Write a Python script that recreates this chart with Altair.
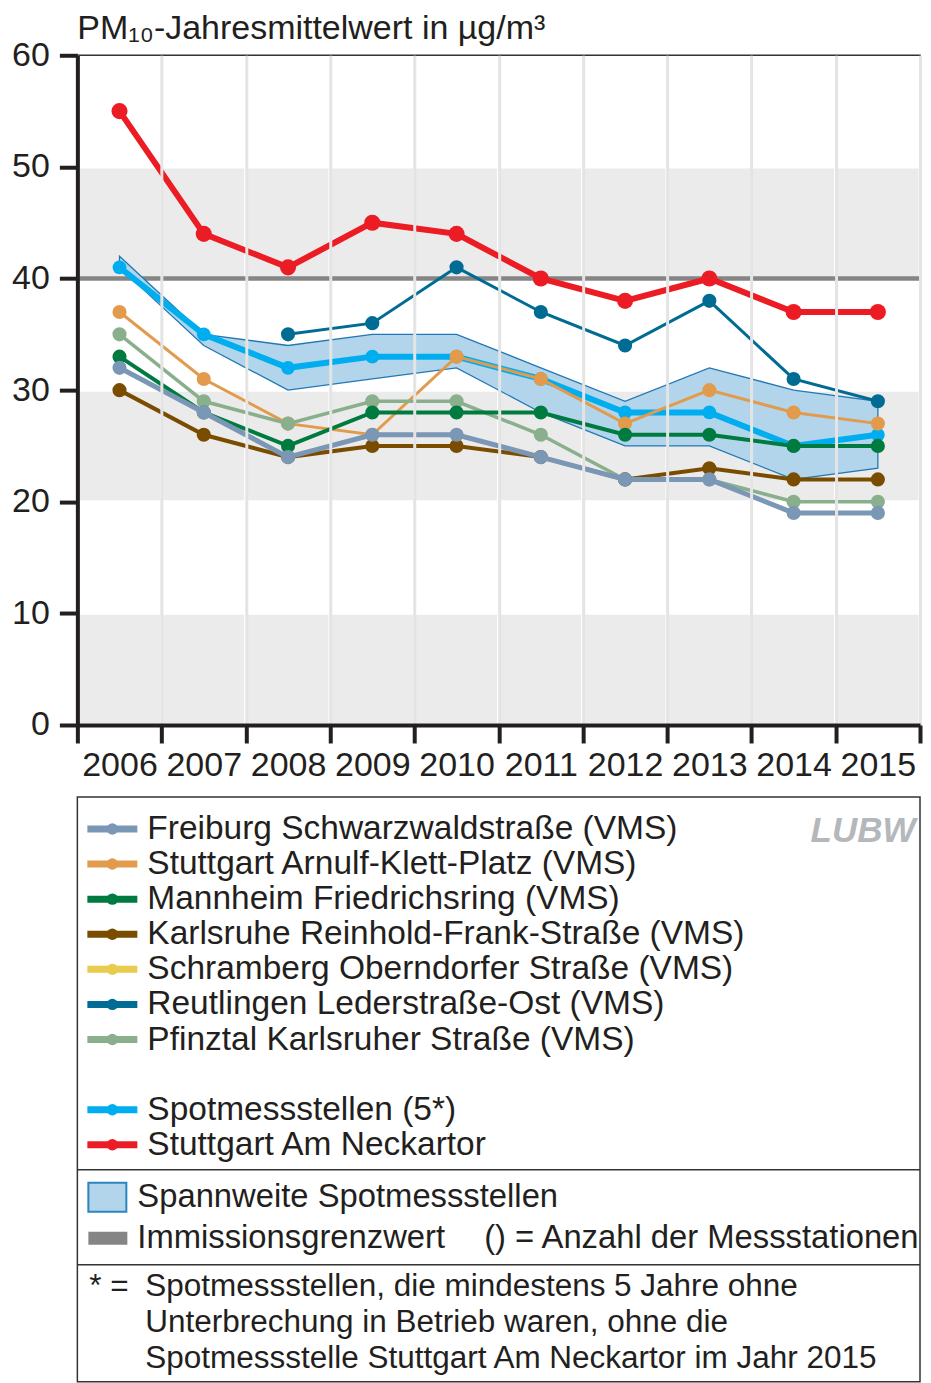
import altair as alt
import pandas as pd

# ---------------- data ----------------
years = [str(y) for y in range(2006, 2016)]

freiburg = [32, 28, 24, 26, 26, 24, 22, 22, 19, 19]
arnulf = [37, 31, 27, 26, 33, 31, 27, 30, 28, 27]
mannheim = [33, 28, 25, 28, 28, 28, 26, 26, 25, 25]
karlsruhe = [30, 26, 24, 25, 25, 24, 22, 23, 22, 22]
schramberg = [None] * 10
reutlingen = [None, None, 35, 36, 41, 37, 34, 38, 31, 29]
pfinztal = [35, 29, 27, 29, 29, 26, 22, 22, 20, 20]
spot = [41, 35, 32, 33, 33, 31, 28, 28, 25, 26]
neckartor = [55, 44, 41, 45, 44, 40, 38, 40, 37, 37]

spot_min = [41, 34, 30, 31, 32, 28, 25, 25, 22, 23]
spot_max = [42, 35, 34, 35, 35, 32, 29, 32, 30, 29]

limit_value = [40]
y_ticks = [0, 10, 20, 30, 40, 50, 60]
band_low = [0, 20, 40]
band_high = [10, 30, 50]

title_text = "PM₁₀-Jahresmittelwert in µg/m³"
legend_labels = [
    "Freiburg Schwarzwaldstraße (VMS)",
    "Stuttgart Arnulf-Klett-Platz (VMS)",
    "Mannheim Friedrichsring (VMS)",
    "Karlsruhe Reinhold-Frank-Straße (VMS)",
    "Schramberg Oberndorfer Straße (VMS)",
    "Reutlingen Lederstraße-Ost (VMS)",
    "Pfinztal Karlsruher Straße  (VMS)",
    "Spotmessstellen (5*)",
    "Stuttgart Am Neckartor",
]
legend_colors = ["#7b97b6", "#e29b4c", "#007b40", "#7a4c00", "#e8cc4e",
                 "#006b93", "#8aaf8c", "#00aeef", "#ec1c24"]
series_values = [freiburg, arnulf, mannheim, karlsruhe, schramberg,
                 reutlingen, pfinztal, spot, neckartor]
line_widths = [5, 3, 4, 4, 3, 3, 3.5, 6, 6]
point_sizes = [200, 200, 200, 200, 200, 200, 200, 190, 260]

# drawing order bottom -> top
draw_order = [7, 1, 6, 3, 2, 0, 5, 8]

FONT = "Liberation Sans, Arial, Helvetica, sans-serif"
TXT = "#231f20"
W, H = 843, 670

# ---------------- plot ----------------
x_scale = alt.Scale(type="band", domain=years, paddingInner=0, paddingOuter=0)
x_axis = alt.Axis(title=None, tickBand="extent", grid=True, gridColor="#e4e4e4",
                  gridWidth=3, domainColor=TXT, domainWidth=4, tickColor=TXT,
                  tickWidth=4, tickSize=18, labelFontSize=34, labelFont=FONT,
                  labelColor=TXT, labelPadding=6, labelAngle=0, zindex=1)
y_scale = alt.Scale(domain=[0, 60], nice=False)
y_axis = alt.Axis(title=None, values=y_ticks, grid=False, domainColor=TXT,
                  domainWidth=4, tickColor=TXT, tickWidth=4, tickSize=18,
                  labelFontSize=34, labelFont=FONT, labelColor=TXT,
                  labelPadding=10, zindex=1)


def X(field, center=True):
    if center:
        return alt.X(field, type="ordinal", scale=x_scale, axis=x_axis, bandPosition=0.5)
    return alt.X(field, type="ordinal", scale=x_scale, axis=x_axis)


def Y(field):
    return alt.Y(field, type="quantitative", scale=y_scale, axis=y_axis)


cells = pd.DataFrame(
    [(yr, lo, hi) for yr in years for lo, hi in zip(band_low, band_high)],
    columns=["year", "lo", "hi"],
)
bg = alt.Chart(cells).mark_rect(fill="#ebebeb", stroke="white", strokeWidth=3).encode(
    x=X("year", center=False), y=Y("lo"), y2="hi"
)

limit = alt.Chart(pd.DataFrame({"v": limit_value})).mark_rule(
    color="#858585", strokeWidth=4.5
).encode(y=Y("v"))

rng = pd.DataFrame({"year": years, "lo": spot_min, "hi": spot_max})
area = alt.Chart(rng).mark_area(
    fill="#b3d5ec", fillOpacity=1, stroke="#2278b5", strokeWidth=1.3
).encode(x=X("year"), y=Y("lo"), y2="hi")

title = alt.Chart(pd.DataFrame({"t": [title_text]})).mark_text(
    align="left", baseline="alphabetic", fontSize=34, font=FONT, color=TXT
).encode(x=alt.value(0), y=alt.value(-16), text="t:N")

layers = [bg, limit, area]
for i in draw_order:
    df = pd.DataFrame({"year": years, "value": series_values[i]}).dropna()
    col = legend_colors[i]
    base = alt.Chart(df)
    layers.append(base.mark_line(color=col, strokeWidth=line_widths[i]).encode(
        x=X("year"), y=Y("value")))
    layers.append(base.mark_circle(color=col, size=point_sizes[i], opacity=1).encode(
        x=X("year"), y=Y("value")))
layers.append(title)

top = alt.layer(*layers).properties(width=W, height=H)

# ---------------- legend panel ----------------
LH = 585
blank = " "
legend_domain = legend_labels[:7] + [blank] + legend_labels[7:]
leg_df = pd.DataFrame({"label": legend_labels, "color": legend_colors})
y_leg = alt.Y("label:N", scale=alt.Scale(type="point", domain=legend_domain,
                                         range=[32, 348], padding=0), axis=None)
lb = alt.Chart(leg_df)
leg_lines = lb.mark_rule(strokeWidth=7).encode(
    x=alt.value(10), x2=alt.value(60), y=y_leg,
    color=alt.Color("color:N", scale=None))
leg_dots = lb.mark_circle(size=130, opacity=1).encode(
    x=alt.value(35), y=y_leg, color=alt.Color("color:N", scale=None))
leg_text = lb.mark_text(align="left", baseline="middle", fontSize=33.5,
                        font=FONT, color=TXT).encode(
    x=alt.value(70), y=y_leg, text="label:N")

one = pd.DataFrame({"k": [0]})
div1 = alt.Chart(one).mark_rule(color="#333", strokeWidth=1.5).encode(
    x=alt.value(0), x2=alt.value(W), y=alt.value(373))
div2 = alt.Chart(one).mark_rule(color="#333", strokeWidth=1.5).encode(
    x=alt.value(0), x2=alt.value(W), y=alt.value(468))

sw_area = alt.Chart(one).mark_rect(fill="#b3d5ec", stroke="#2a86bd", strokeWidth=2).encode(
    x=alt.value(11), x2=alt.value(49), y=alt.value(386), y2=alt.value(415))
sw_lim = alt.Chart(one).mark_rect(fill="#858585").encode(
    x=alt.value(11), x2=alt.value(50), y=alt.value(435), y2=alt.value(448))


def txt(s, x, y, size=32.8, align="left", **kw):
    return alt.Chart(pd.DataFrame({"t": [s]})).mark_text(
        align=align, baseline="middle", fontSize=size, font=FONT,
        color=kw.pop("color", TXT), **kw).encode(
        x=alt.value(x), y=alt.value(y), text="t:N")


t_span = txt("Spannweite Spotmessstellen", 60, 400)
t_lim = txt("Immissionsgrenzwert", 60, 441)
t_anz = txt("() =  Anzahl der Messstationen", 407, 441)
t_star = txt("* =", 12, 490, size=31.5)
t_f1 = txt("Spotmessstellen, die mindestens 5 Jahre ohne", 68, 490, size=31.5)
t_f2 = txt("Unterbrechung in Betrieb waren, ohne die", 68, 526, size=31.5)
t_f3 = txt("Spotmessstelle Stuttgart Am Neckartor im Jahr 2015", 68, 562, size=31.5)
logo = txt("LUBW", 786, 34, size=35, align="center", color="#b5b8bb",
           fontStyle="italic", fontWeight="bold")

legend = alt.layer(
    leg_lines, leg_dots, leg_text, div1, div2, sw_area, sw_lim,
    t_span, t_lim, t_anz, t_star, t_f1, t_f2, t_f3, logo,
).properties(width=W, height=LH)

chart = alt.vconcat(top, legend, spacing=12).properties(
    padding={"left": 2.4, "top": 3, "right": -8, "bottom": 0}
).configure(font=FONT, background="white").configure_view(stroke="#333", strokeWidth=1.5)

chart.save("out.html", embed_options={"renderer": "svg", "actions": False})
